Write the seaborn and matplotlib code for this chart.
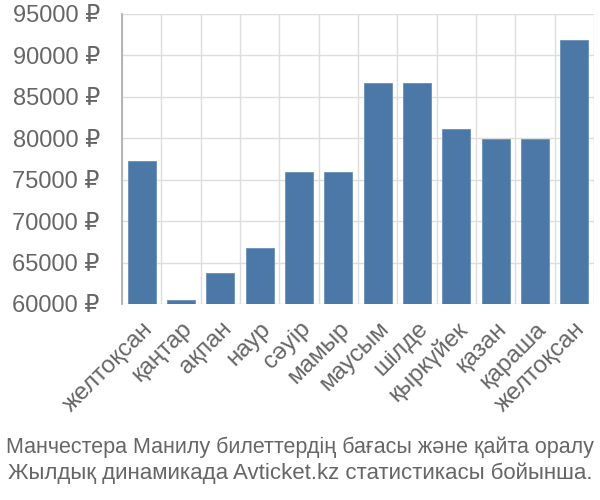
import numpy as np
import pandas as pd
import matplotlib
matplotlib.use("Agg")
import matplotlib.pyplot as plt
import seaborn as sns

months = ["желтоқсан", "қаңтар", "ақпан", "наур", "сәуір", "мамыр", "маусым",
          "шілде", "қыркүйек", "қазан", "қараша", "желтоқсан"]
prices = [77300, 60450, 63700, 66700, 75900, 75900, 86700, 86700, 81100, 79900, 79900, 91900]
yticks = [60000, 65000, 70000, 75000, 80000, 85000, 90000, 95000]
title_lines = ["Манчестера Манилу билеттердің бағасы және қайта оралу",
               "Жылдық динамикада Avticket.kz статистикасы бойынша."]

sns.set_style("white")
plt.rcParams['font.family'] = ['Liberation Sans', 'DejaVu Sans']

df = pd.DataFrame({"x": [f"{i}" for i in range(len(months))], "price": prices})

fig = plt.figure(figsize=(6, 5), dpi=100)
ax = fig.add_axes([122/600, 1-304/500, (594-122)/600, (304-14)/500])

sns.barplot(data=df, x="x", y="price", color="#4c78a8", saturation=1, width=0.72, ax=ax,
            edgecolor="#6a8fb8", linewidth=0.6, zorder=3)
ax.set_ylim(60000, 95000)
ax.set_xlim(-0.5, len(months) - 0.5)
ax.set_yticks(yticks)
ax.set_yticklabels([f"{v} ₽" for v in yticks], fontsize=17, color="#666666")
ax.set_xticks(range(len(months)))
ax.set_xticklabels(months, rotation=45, ha="right", rotation_mode="anchor",
                   fontsize=17.5, color="#666666")
ax.set_xticks(np.arange(-0.5, len(months), 1.0), minor=True)
ax.tick_params(axis="x", which="major", length=0, pad=10)
ax.tick_params(axis="x", which="minor", length=14, color="#dddddd", width=1)
ax.tick_params(axis="y", which="major", length=14, color="#dddddd", width=1, pad=2)
ax.grid(axis="y", which="major", color="#dddddd", linewidth=1, zorder=0)
ax.grid(axis="x", which="minor", color="#dddddd", linewidth=1, zorder=0)
ax.set_axisbelow(True)
for s in ["top", "right", "bottom"]:
    ax.spines[s].set_visible(False)
ax.spines["left"].set_color("#aaaaaa")
ax.spines["left"].set_linewidth(1.2)
ax.set_xlabel("")
ax.set_ylabel("")

fig.text(0.5, 1-447/500, title_lines[0], ha="center", va="center", fontsize=15.5, color="#666666")
fig.text(0.5, 1-473/500, title_lines[1], ha="center", va="center", fontsize=16, color="#666666")

fig.savefig("out.png", dpi=100)
